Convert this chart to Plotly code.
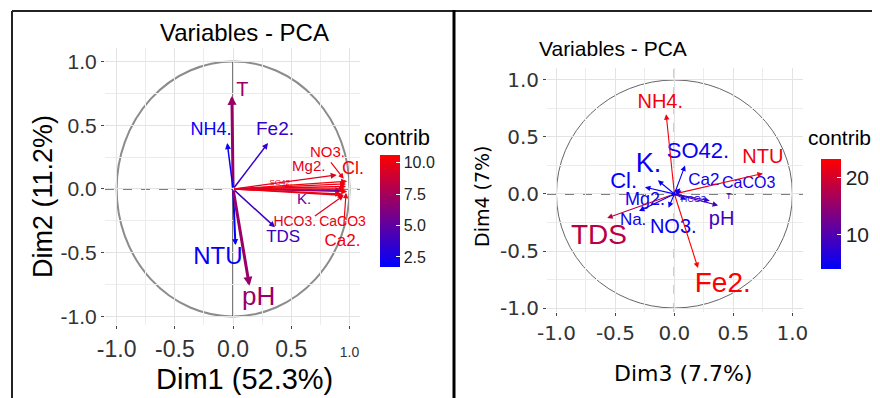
import plotly.graph_objects as go

# ---------------- data: left panel (Dim1 vs Dim2) ----------------
vars_L = ["T", "NH4.", "Fe2.", "NO3.", "Mg2.", "Cl.", "SO42.", "Na.", "K.",
          "HCO3.", "CaCO3", "Ca2.", "TDS", "NTU", "pH"]
dim1 = [-0.01, -0.05, 0.30, 0.97, 0.89, 0.98, 0.97, 0.98, 0.93, 0.95, 0.96, 0.93, 0.36, 0.02, 0.14]
dim2 = [0.73, 0.36, 0.36, 0.04, 0.11, 0.06, 0.02, -0.02, -0.01, -0.05, 0.00, -0.04, -0.30, -0.44, -0.76]
contrib_L = [7.0, 2.0, 3.5, 10.0, 9.5, 10.3, 9.8, 10.6, 5.0, 9.6, 10.0, 10.1, 3.8, 1.8, 7.0]
lab1 = [0.08, -0.19, 0.36, 0.81, 0.65, 1.03, 0.41, 1.11, 0.61, 0.53, 0.94, 0.94, 0.43, -0.13, 0.22]
lab2 = [0.77, 0.46, 0.46, 0.28, 0.17, 0.15, 0.05, -0.03, -0.09, -0.26, -0.26, -0.41, -0.38, -0.54, -0.86]
lsize_L = [20, 18, 19, 15, 15, 18, 8, 17, 15, 14, 14, 17, 17, 24, 26]
width_L = [3, 1.5, 1.5, 1.3, 1.3, 1.3, 1.3, 1.3, 1.3, 1.3, 1.3, 1.3, 1.5, 2, 3]
# label-to-arrow segments (repel lines)
seg_vars_L = ["NO3.", "HCO3.", "Ca2."]
seg_from1 = [0.83, 0.69, 0.95]
seg_from2 = [0.22, -0.22, -0.30]
seg_to1 = [0.95, 0.95, 0.97]
seg_to2 = [0.08, -0.05, -0.03]
cmin_L, cmax_L = 1.7, 10.6
cb_ticks_L = [2.5, 5.0, 7.5, 10.0]

# ---------------- data: right panel (Dim3 vs Dim4) ----------------
vars_R = ["NH4.", "NTU", "Fe2.", "TDS", "SO42.", "K.", "Cl.", "Ca2", "CaCO3",
          "Mg2.", "HCO3", "T", "pH", "Na.", "NO3."]
dim3 = [-0.07, 0.75, 0.20, -0.57, 0.09, -0.14, -0.25, 0.05, 0.06, -0.03, 0.10, 0.30, 0.37, -0.30, -0.05]
dim4 = [0.70, 0.18, -0.65, -0.21, 0.25, 0.12, 0.06, 0.05, 0.03, -0.02, -0.05, -0.06, -0.10, -0.15, -0.12]
contrib_R = [22.5, 22.0, 23.3, 18.0, 5.0, 4.5, 4.2, 5.0, 5.5, 5.0, 6.0, 8.0, 9.0, 5.0, 4.5]
lab3 = [-0.12, 0.75, 0.41, -0.64, 0.20, -0.22, -0.43, 0.25, 0.63, -0.25, 0.16, 0.46, 0.40, -0.35, -0.01]
lab4 = [0.80, 0.32, -0.80, -0.38, 0.36, 0.25, 0.10, 0.12, 0.09, -0.06, -0.05, -0.02, -0.23, -0.235, -0.30]
lsize_R = [20, 20, 28, 28, 22, 27, 22, 17, 16, 18, 9, 9, 20, 17, 20]
cmin_R, cmax_R = 4.0, 23.3
cb_ticks_R = [10, 20]

axis_ticks = [-1.0, -0.5, 0.0, 0.5, 1.0]
axis_ticktext = ["-1.0", "-0.5", "0.0", "0.5", "1.0"]
minor_ticks = [-0.75, -0.25, 0.25, 0.75]

W, H = 880, 398
OFF = 8  # page body margin offset of the plot div
SCALE = [[0.0, "rgb(0,0,255)"], [0.5, "rgb(128,0,128)"], [1.0, "rgb(255,0,0)"]]
STOPS = [(0, 0, 255), (128, 0, 128), (255, 0, 0)]


def col(v, lo, hi):
    t = min(max((v - lo) / (hi - lo), 0), 1)
    if t <= 0.5:
        a, b, f = STOPS[0], STOPS[1], t / 0.5
    else:
        a, b, f = STOPS[1], STOPS[2], (t - 0.5) / 0.5
    return "rgb(%d,%d,%d)" % tuple(round(a[i] + (b[i] - a[i]) * f) for i in range(3))


def px(x):
    return (x - OFF) / W


def py(y):
    return 1 - (y - OFF) / H


SANS = "Liberation Sans, Arial"
WIDE = "DejaVu Sans"

colors_L = [col(v, cmin_L, cmax_L) for v in contrib_L]
colors_R = [col(v, cmin_R, cmax_R) for v in contrib_R]

fig = go.Figure()

# labels
fig.add_trace(go.Scatter(x=lab1, y=lab2, text=vars_L, mode="text", xaxis="x", yaxis="y",
                         textfont=dict(size=lsize_L, color=colors_L, family=SANS),
                         cliponaxis=False, hoverinfo="skip", showlegend=False))
fig.add_trace(go.Scatter(x=lab3, y=lab4, text=vars_R, mode="text", xaxis="x2", yaxis="y2",
                         textfont=dict(size=lsize_R, color=colors_R, family=SANS),
                         cliponaxis=False, hoverinfo="skip", showlegend=False))
# colorbar carriers
fig.add_trace(go.Scatter(x=dim1, y=dim2, mode="markers", xaxis="x", yaxis="y",
                         marker=dict(size=1, opacity=0, color=contrib_L, coloraxis="coloraxis"),
                         hoverinfo="skip", showlegend=False))
fig.add_trace(go.Scatter(x=dim3, y=dim4, mode="markers", xaxis="x2", yaxis="y2",
                         marker=dict(size=1, opacity=0, color=contrib_R, coloraxis="coloraxis2"),
                         hoverinfo="skip", showlegend=False))

ann = []
for x, y, c, w in zip(dim1, dim2, colors_L, width_L):
    ann.append(dict(x=x, y=y, ax=0, ay=0, xref="x", yref="y", axref="x", ayref="y",
                    text="", showarrow=True, arrowhead=2, arrowsize=max(0.6, 1.2 / w),
                    arrowwidth=w, arrowcolor=c))
for v, x0, y0, x1, y1 in zip(seg_vars_L, seg_from1, seg_from2, seg_to1, seg_to2):
    c = colors_L[vars_L.index(v)]
    ann.append(dict(x=x1, y=y1, ax=x0, ay=y0, xref="x", yref="y", axref="x", ayref="y",
                    text="", showarrow=True, arrowhead=2, arrowsize=0.9,
                    arrowwidth=1.2, arrowcolor=c))
for x, y, c in zip(dim3, dim4, colors_R):
    ann.append(dict(x=x, y=y, ax=0, ay=0, xref="x2", yref="y2", axref="x2", ayref="y2",
                    text="", showarrow=True, arrowhead=2, arrowsize=1,
                    arrowwidth=1.1, arrowcolor=c))


def ptext(text, x, y, size, fam, angle=0):
    return dict(text=text, x=px(x), y=py(y), xref="paper", yref="paper",
                xanchor="center", yanchor="middle", textangle=angle,
                showarrow=False, font=dict(size=size, family=fam, color="black"))


# titles and axis titles
ann += [
    ptext("Variables - PCA", 244, 33, 24, SANS),
    ptext("Variables - PCA", 613, 48, 21, SANS),
    ptext("Dim1 (52.3%)", 244, 379, 29, SANS),
    ptext("Dim2 (11.2%)", 43, 197, 27, SANS, -90),
    ptext("Dim3 (7.7%)", 683, 373, 22, WIDE),
    ptext("Dim4 (7%)", 482, 196, 19, WIDE, -90),
    ptext("contrib", 397, 137, 22, SANS),
    ptext("contrib", 839, 137, 21, SANS),
]

shapes = [
    # circles
    dict(type="circle", xref="x", yref="y", x0=-1, y0=-1, x1=1, y1=1,
         line=dict(color="#8c8c8c", width=2), layer="below"),
    dict(type="circle", xref="x2", yref="y2", x0=-1, y0=-1, x1=1, y1=1,
         line=dict(color="#666666", width=1), layer="below"),
    # zero lines left
    dict(type="line", xref="x domain", yref="y", x0=0, x1=1, y0=0, y1=0,
         line=dict(color="black", width=1.2, dash="dash"), layer="below"),
    dict(type="line", xref="x", yref="y", x0=0, x1=0, y0=-1, y1=1,
         line=dict(color="black", width=1.2), layer="below"),
    # zero lines right
    dict(type="line", xref="x2 domain", yref="y2", x0=0, x1=1, y0=0, y1=0,
         line=dict(color="black", width=1.2, dash="dash"), layer="below"),
    dict(type="line", xref="x2", yref="y2 domain", x0=0, x1=0, y0=0, y1=1,
         line=dict(color="black", width=1.2, dash="dash"), layer="below"),
    # frame
    dict(type="line", xref="paper", yref="paper", x0=px(12), x1=1, y0=py(11), y1=py(11),
         line=dict(color="#222222", width=2)),
    dict(type="line", xref="paper", yref="paper", x0=px(12), x1=px(12), y0=0, y1=py(11),
         line=dict(color="#222222", width=2)),
    dict(type="line", xref="paper", yref="paper", x0=px(454), x1=px(454), y0=0, y1=py(10),
         line=dict(color="black", width=3)),
]

grid = "#e3e3e3"


def axis(domain, rng, fam, size, anchor):
    return dict(domain=domain, range=rng, tickvals=axis_ticks, ticktext=axis_ticktext,
                ticks="outside", ticklen=3, tickcolor="#444", showgrid=True, gridcolor=grid,
                gridwidth=1, zeroline=False, showline=False, anchor=anchor,
                tickfont=dict(size=size, family=fam, color="#333"),
                minor=dict(tickvals=minor_ticks, showgrid=True, gridcolor="#ececec", gridwidth=1))


left_xtext = ["-1.0", "-0.5", "0.0", "0.5", '<span style="font-size:14px">1.0</span>']
xa1 = axis([px(105), px(360)], [-1.1, 1.09], SANS, 23, "y")
xa1["ticktext"] = left_xtext
ya1 = axis([py(325), py(48)], [-1.067, 1.106], SANS, 21, "x")
xa2 = axis([px(547), px(803)], [-1.08, 1.09], WIDE, 20, "y2")
ya2 = axis([py(312), py(68)], [-1.035, 1.105], WIDE, 20, "x2")

cb_common = dict(thickness=20, thicknessmode="pixels", lenmode="pixels", outlinewidth=0,
                 ticks="inside", ticklen=4, tickcolor="white", xanchor="left",
                 yanchor="middle", xpad=0, ypad=0)

fig.update_layout(
    width=W, height=H, margin=dict(l=0, r=0, t=0, b=0, autoexpand=False),
    paper_bgcolor="white", plot_bgcolor="white", showlegend=False,
    xaxis=xa1, yaxis=ya1, xaxis2=xa2, yaxis2=ya2,
    coloraxis=dict(colorscale=SCALE, cmin=cmin_L, cmax=cmax_L,
                   colorbar=dict(x=px(380), y=py(211), len=112,
                                 tickvals=cb_ticks_L, ticktext=["%.1f" % t for t in cb_ticks_L],
                                 tickfont=dict(size=16, family=SANS, color="#222"), **cb_common)),
    coloraxis2=dict(colorscale=SCALE, cmin=cmin_R, cmax=cmax_R,
                    colorbar=dict(x=px(821), y=py(214), len=110,
                                  tickvals=cb_ticks_R, ticktext=[str(t) for t in cb_ticks_R],
                                  tickfont=dict(size=21, family=SANS, color="#222"), **cb_common)),
    annotations=ann, shapes=shapes,
)

fig.write_html("out.html")
